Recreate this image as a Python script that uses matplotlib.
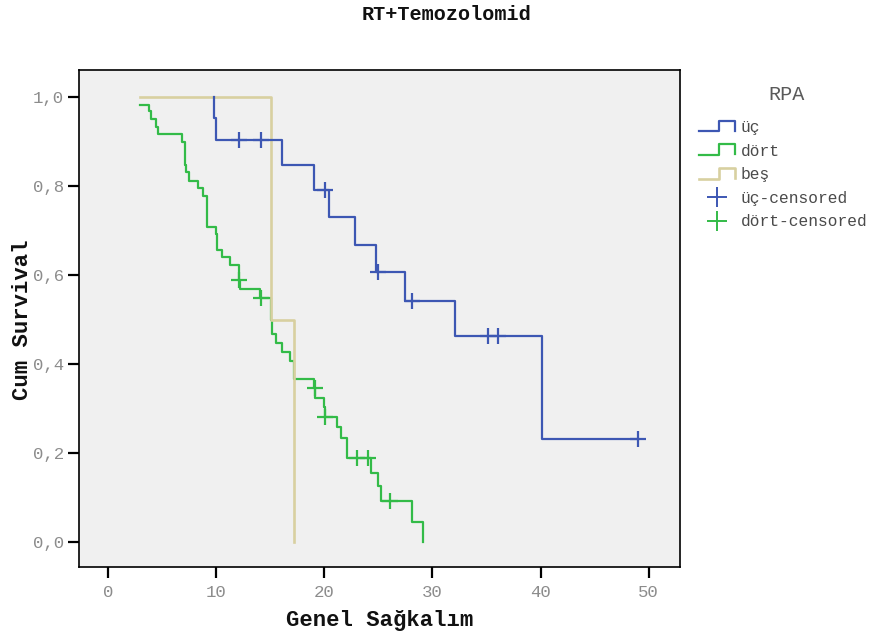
import numpy as np
import matplotlib
matplotlib.use("Agg")
import matplotlib.pyplot as plt
from matplotlib.lines import Line2D
from matplotlib.legend_handler import HandlerBase

plt.rcParams['font.family'] = ['Liberation Mono', 'DejaVu Sans']

# ---------------- data ----------------
title = "RT+Temozolomid"
xlabel = "Genel Sağkalım"
ylabel = "Cum Survival"
legend_title = "RPA"
group_names = ["üç", "dört", "beş"]

# üç
blue_start = (9.77, 1.0)
blue_times = [9.77, 9.95, 16.1, 19.0, 20.4, 22.8, 24.8, 27.5, 32.1, 40.1]
blue_surv = [0.953, 0.903, 0.847, 0.791, 0.730, 0.668, 0.607, 0.541, 0.464, 0.231]
blue_end = 49.0
blue_cens = [12.1, 14.1, 20.1, 25.0, 28.1, 35.1, 36.1, 49.0]

# dört
green_start = (2.9, 0.983)
green_times = [2.9, 3.75, 4.0, 4.46, 4.62, 6.87, 7.08, 7.18, 7.48, 8.29, 8.8, 9.15,
               9.98, 10.05, 10.52, 11.31, 12.08, 12.17, 14.08, 15.08, 15.12, 15.2,
               15.57, 16.1, 16.83, 17.15, 19.07, 19.15, 19.95, 20.05, 21.14, 21.56,
               22.1, 24.28, 24.93, 25.2, 28.13, 29.12]
green_surv = [0.983, 0.968, 0.951, 0.934, 0.917, 0.900, 0.848, 0.831, 0.812, 0.796,
              0.778, 0.709, 0.692, 0.656, 0.640, 0.622, 0.588, 0.569, 0.549, 0.499,
              0.487, 0.468, 0.447, 0.428, 0.407, 0.366, 0.346, 0.324, 0.304, 0.280,
              0.258, 0.233, 0.188, 0.156, 0.126, 0.093, 0.046, 0.0]
green_end = 29.12
green_cens = [12.12, 14.1, 19.1, 20.07, 23.05, 24.05, 26.05]

# beş
beige_start = (2.9, 1.0)
beige_times = [15.1, 17.2]
beige_surv = [0.5, 0.0]
beige_end = 17.2

xticks = [0, 10, 20, 30, 40, 50]
yticks = [0.0, 0.2, 0.4, 0.6, 0.8, 1.0]

c_blue = "#3d57b3"
c_green = "#33bb48"
c_beige = "#d8d0a0"


def step_xy(start, times, surv, end):
    x = [start[0]] + list(times) + [end]
    y = [start[1]] + list(surv) + [surv[-1]]
    return x, y


def surv_at(start, times, surv, t):
    idx = np.searchsorted(np.asarray(times), t, side='right') - 1
    return start[1] if idx < 0 else surv[idx]


fig = plt.figure(figsize=(8.72, 6.39), dpi=100)
ax = fig.add_axes([79 / 872, 1 - 567 / 639, (680 - 79) / 872, (567 - 70) / 639])
ax.set_facecolor("#f0f0f0")

lw = 1.6
gx, gy = step_xy(green_start, green_times, green_surv, green_end)
ax.plot(gx, gy, drawstyle='steps-post', color=c_green, lw=lw, zorder=2)
gcy = [surv_at(green_start, green_times, green_surv, t) for t in green_cens]
ax.plot(green_cens, gcy, ls='none', marker='+', ms=11, mew=1.6, color=c_green, zorder=2)

bx, by = step_xy(beige_start, beige_times, beige_surv, beige_end)
ax.plot(bx, by, drawstyle='steps-post', color=c_beige, lw=lw + 0.3, zorder=3)

ux, uy = step_xy(blue_start, blue_times, blue_surv, blue_end)
ax.plot(ux, uy, drawstyle='steps-post', color=c_blue, lw=lw, zorder=4)
bcy = [surv_at(blue_start, blue_times, blue_surv, t) for t in blue_cens]
ax.plot(blue_cens, bcy, ls='none', marker='+', ms=11, mew=1.6, color=c_blue, zorder=4)

ax.set_xlim(-2.7, 52.9)
ax.set_ylim(-0.056, 1.061)
ax.set_xticks(xticks)
ax.set_yticks(yticks)
ax.set_xticklabels([str(v) for v in xticks])
ax.set_yticklabels([f"{v:.1f}".replace('.', ',') for v in yticks])
ax.tick_params(direction='out', length=8, width=1.6, color='black',
               labelcolor='#8c8c8c', labelsize=12.5)
ax.tick_params(axis='y', pad=3)
ax.tick_params(axis='x', pad=5)
for s in ax.spines.values():
    s.set_linewidth(1.2)
    s.set_color('black')

ax.set_xlabel(xlabel, fontsize=16, fontweight='bold', labelpad=7, color='#111111')
fig.text(22 / 872, 1 - 320 / 639, ylabel, rotation=90, ha='center', va='center',
         fontsize=16, fontweight='bold', color='#111111')
fig.text(446 / 872, 1 - 15 / 639, title, ha='center', va='center',
         fontsize=14.5, fontweight='bold', color='#111111')


class StepHandler(HandlerBase):
    def create_artists(self, legend, orig_handle, xdescent, ydescent, width,
                       height, fontsize, trans):
        x0 = -xdescent
        y0 = -ydescent
        xs = [x0, x0 + 0.55 * width, x0 + 0.55 * width, x0 + width, x0 + width]
        ys = [y0 + 0.05 * height, y0 + 0.05 * height, y0 + 1.0 * height,
              y0 + 1.0 * height, y0 + 0.1 * height]
        ln = Line2D(xs, ys, color=orig_handle.get_color(), lw=orig_handle.get_linewidth())
        ln.set_transform(trans)
        return [ln]


h_blue = Line2D([], [], color=c_blue, lw=1.6)
h_green = Line2D([], [], color=c_green, lw=1.6)
h_beige = Line2D([], [], color=c_beige, lw=1.9)
h_bc = Line2D([], [], ls='none', marker='+', ms=15, mew=1.4, color=c_blue)
h_gc = Line2D([], [], ls='none', marker='+', ms=15, mew=1.4, color=c_green)

labels = [group_names[0], group_names[1], group_names[2],
          group_names[0] + "-censored", group_names[1] + "-censored"]
leg = fig.legend([h_blue, h_green, h_beige, h_bc, h_gc], labels,
                 handler_map={h_blue: StepHandler(), h_green: StepHandler(),
                              h_beige: StepHandler()},
                 loc='upper left', bbox_to_anchor=(699 / 872, 1 - 120 / 639),
                 frameon=False, fontsize=11.7, handlelength=2.2, handleheight=0.7,
                 handletextpad=0.35, labelspacing=0.53, borderpad=0,
                 borderaxespad=0)
for t in leg.get_texts():
    t.set_color('#4a4a4a')
fig.text(787 / 872, 1 - 95 / 639, legend_title, ha='center', va='center',
         fontsize=14.5, color='#5a5a5a')

fig.savefig("out.png", dpi=100, facecolor='white')
